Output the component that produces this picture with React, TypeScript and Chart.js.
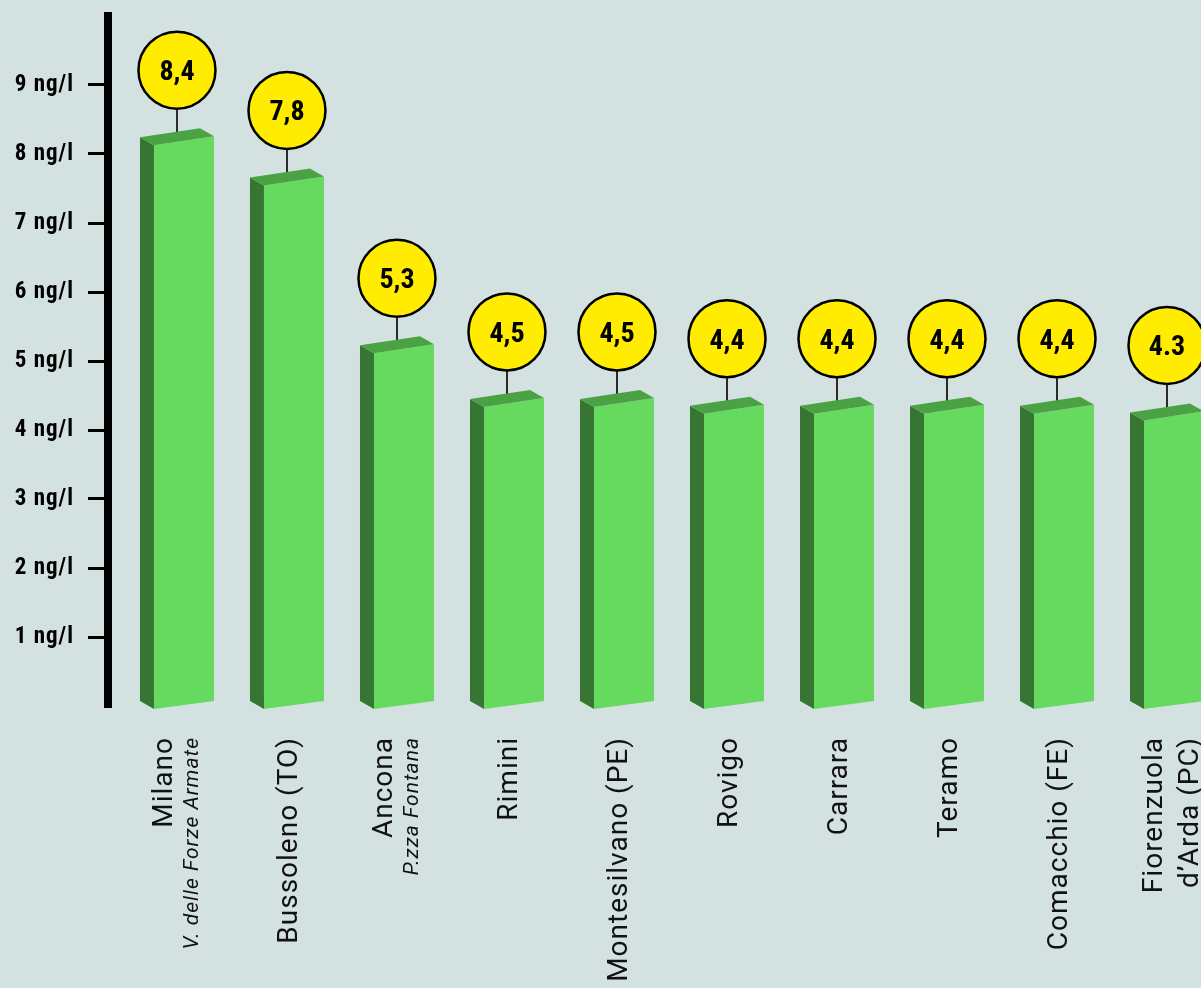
import React, { useEffect, useRef } from 'react';
import { Chart, registerables } from 'chart.js';

Chart.register(...registerables);

// ---- data ----
const categoryLines: string[][] = [
  ['Milano'],
  ['Bussoleno (TO)'],
  ['Ancona'],
  ['Rimini'],
  ['Montesilvano (PE)'],
  ['Rovigo'],
  ['Carrara'],
  ['Teramo'],
  ['Comacchio (FE)'],
  ['Fiorenzuola', 'd’Arda (PC)'],
];
const subtitles = ['V. delle Forze Armate', '', 'P.zza Fontana', '', '', '', '', '', '', ''];
const values = [8.4, 7.8, 5.3, 4.5, 4.5, 4.4, 4.4, 4.4, 4.4, 4.3];
const valueLabels = ['8,4', '7,8', '5,3', '4,5', '4,5', '4,4', '4,4', '4,4', '4,4', '4.3'];
const yTickValues = [1, 2, 3, 4, 5, 6, 7, 8, 9];
const yTickLabels = ['1 ng/l', '2 ng/l', '3 ng/l', '4 ng/l', '5 ng/l', '6 ng/l', '7 ng/l', '8 ng/l', '9 ng/l'];

// ---- styles ----
const BG = '#d3e2e0';
const FRONT = '#66da5e';
const SIDE = '#367532';
const TOP = '#4ba245';
const BUBBLE = '#ffec00';
const COND = '"Roboto Condensed", Roboto, sans-serif';

const spacingPlugin = {
  id: 'spacing',
  beforeDraw(chart: any) {
    chart.ctx.letterSpacing = '1px';
  },
  beforeDatasetsDraw(chart: any) {
    chart.ctx.letterSpacing = '0px';
  },
};

const bars3d = {
  id: 'bars3d',
  afterDatasetsDraw(chart: any) {
    const ctx = chart.ctx as CanvasRenderingContext2D;
    const meta = chart.getDatasetMeta(0);
    const poly = (pts: number[][], color: string) => {
      ctx.fillStyle = color;
      ctx.beginPath();
      pts.forEach((p, k) => (k === 0 ? ctx.moveTo(p[0], p[1]) : ctx.lineTo(p[0], p[1])));
      ctx.closePath();
      ctx.fill();
    };
    meta.data.forEach((el: any, i: number) => {
      const { x, y, base, width } = el;
      const xl = x - width / 2;
      const dx = 14;
      const dy = 8;
      const tl = y + 3;
      const bl = base + 3;
      const cy = y - 72;
      const r = 38.5;
      ctx.save();
      ctx.letterSpacing = '0px';
      ctx.strokeStyle = '#2a2a2a';
      ctx.lineWidth = 2;
      ctx.beginPath();
      ctx.moveTo(x, cy + r);
      ctx.lineTo(x, y - 6);
      ctx.stroke();
      poly([[xl, tl - dy], [xl + dx, tl], [xl + dx, bl], [xl, bl - dy]], SIDE);
      poly([[xl + dx, tl], [xl + width, tl - 9], [xl + width, bl - 8], [xl + dx, bl]], FRONT);
      poly([[xl, tl - dy], [xl + dx, tl], [xl + width, tl - 9], [xl + width - dx, tl - 9 - dy]], TOP);
      ctx.beginPath();
      ctx.arc(x, cy, r, 0, Math.PI * 2);
      ctx.fillStyle = BUBBLE;
      ctx.fill();
      ctx.lineWidth = 2.5;
      ctx.strokeStyle = '#000';
      ctx.stroke();
      ctx.fillStyle = '#000';
      ctx.font = 'bold 28px ' + COND;
      ctx.textAlign = 'center';
      ctx.textBaseline = 'alphabetic';
      ctx.fillText(valueLabels[i], x, cy + 10);
      ctx.restore();
    });
  },
};

const xLabels = {
  id: 'xLabels',
  afterDraw(chart: any) {
    const ctx = chart.ctx as CanvasRenderingContext2D;
    const meta = chart.getDatasetMeta(0);
    const topY = 737;
    const draw = (text: string, cx: number, font: string, capH: number) => {
      ctx.save();
      ctx.translate(cx + capH / 2, topY);
      ctx.rotate(-Math.PI / 2);
      ctx.font = font;
      ctx.letterSpacing = '1px';
      ctx.fillStyle = '#111';
      ctx.textAlign = 'right';
      ctx.textBaseline = 'alphabetic';
      ctx.fillText(text, 0, 0);
      ctx.restore();
    };
    meta.data.forEach((el: any, i: number) => {
      const lines = categoryLines[i];
      const sub = subtitles[i];
      const multi = lines.length + (sub ? 1 : 0) > 1;
      const first = multi ? el.x - 15 : el.x;
      lines.forEach((ln, k) => {
        draw(ln, first + k * 36, '28px Roboto', 20);
      });
      if (sub) draw(sub, first + 29, 'italic 21px Roboto', 15);
    });
  },
};

export default function App() {
  const ref = useRef<HTMLCanvasElement>(null);
  useEffect(() => {
    const chart = new Chart(ref.current as HTMLCanvasElement, {
      type: 'bar',
      data: {
        datasets: [
          {
            data: values.map((v, i) => ({ x: i, y: v })) as any,
            yAxisID: 'y2',
            xAxisID: 'x',
            backgroundColor: 'rgba(0,0,0,0)',
            borderWidth: 0,
            barThickness: 74,
          },
        ],
      },
      options: {
        animation: false,
        responsive: false,
        maintainAspectRatio: false,
        devicePixelRatio: 1,
        layout: { padding: { top: 16, bottom: 282, left: 0, right: 0 } },
        plugins: { legend: { display: false }, tooltip: { enabled: false } },
        scales: {
          x: {
            type: 'linear',
            display: false,
            offset: false,
            grid: { offset: false },
            min: -0.627,
            max: 9.309,
            ticks: { stepSize: 1 },
          },
          y: {
            position: 'left',
            min: 0,
            max: 10,
            afterFit: (s: any) => {
              s.width = 108;
              s.paddingTop = 0;
              s.paddingBottom = 0;
            },
            ticks: {
              stepSize: 1,
              padding: 14,
              color: '#000',
              font: { family: COND, weight: 'bold', size: 23 },
              callback: (v: any) => {
                const k = yTickValues.indexOf(Number(v));
                return k >= 0 ? yTickLabels[k] : '';
              },
            },
            grid: {
              drawOnChartArea: false,
              drawTicks: true,
              tickLength: 20,
              lineWidth: 3,
              color: (c: any) =>
                c.tick && yTickValues.indexOf(c.tick.value) >= 0 ? '#000' : 'rgba(0,0,0,0)',
            },
            border: { display: true, color: '#000', width: 8 },
          },
          y2: { display: false, min: 0, max: 10.28 },
        },
      } as any,
      plugins: [spacingPlugin, bars3d, xLabels],
    });
    return () => chart.destroy();
  }, []);

  return (
    <div
      style={{
        position: 'absolute',
        left: 0,
        top: 0,
        width: 1201,
        height: 988,
        overflow: 'hidden',
        background: BG,
      }}
    >
      <canvas ref={ref} width={1201} height={988} style={{ display: 'block', width: 1201, height: 988 }} />
    </div>
  );
}
